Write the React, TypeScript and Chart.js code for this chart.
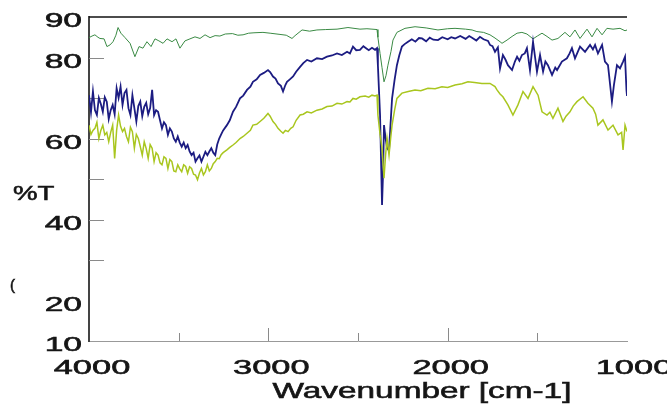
import { useEffect, useRef } from "react";
import { Chart, registerables } from "chart.js";

Chart.register(...registerables);

// ---- data (wavenumber [cm-1], %T) ----
const greenWn = [4000,3983,3967,3950,3939,3916,3900,3883,3866,3850,3838,3822,3799,3771,3744,3721,3699,3677,3654,3632,3610,3587,3565,3537,3515,3493,3465,3437,3409,3381,3353,3325,3297,3270,3240,3200,3170,3141,3110,3080,3030,2990,2935,2900,2868,2851,2812,2770,2729,2680,2617,2556,2489,2450,2422,2394,2389,2377,2366,2355,2344,2333,2316,2305,2283,2238,2182,2120,2054,2000,1959,1900,1864,1837,1800,1764,1736,1708,1697,1669,1641,1613,1586,1558,1524,1500,1474,1446,1418,1385,1346,1318,1290,1262,1223,1195,1167,1139,1112,1078,1039,1011,1000];
const greenT = [84.9,85.3,85.6,85.0,84.7,84.6,82.7,83.1,83.9,85.5,87.4,86.0,84.9,83.5,80.2,82.7,82.3,83.9,82.7,84.6,84.1,83.5,84.6,83.9,84.6,82.3,84.1,84.6,85.1,84.7,85.6,84.9,85.4,85.3,85.8,85.9,85.5,85.6,86.0,86.1,86.2,86.0,85.7,85.5,84.7,85.4,86.8,86.5,86.8,86.9,87.0,87.4,87.0,87.1,87.0,86.9,85.0,81.0,77.5,74.0,75.5,78.1,81.5,84.3,86.2,87.2,87.6,87.3,86.8,87.1,87.2,87.0,86.8,86.4,86.2,85.6,84.8,83.9,83.5,84.3,85.2,86.0,86.2,85.8,84.6,85.3,86.0,85.2,84.3,84.7,86.2,85.1,86.8,84.7,87.0,85.1,87.2,85.6,87.2,87.0,87.2,86.6,86.8];

// noisy O-H region, shared sampling for the two lower spectra
const ohWn = [4000,3989,3978,3967,3956,3945,3934,3923,3912,3901,3890,3879,3868,3857,3846,3835,3824,3813,3802,3791,3780,3769,3758,3747,3736,3725,3714,3703,3692,3681,3670,3659,3648,3637,3626,3615,3604,3593,3582,3571,3560,3549,3538,3527,3516,3505,3494,3483,3472,3461,3450,3439,3428,3417,3406,3395,3384,3373,3362,3351,3340,3329,3318,3307,3296,3285,3274,3263,3252];
const blueOhT = [70.7,66.5,71.6,67.0,65.8,70.0,68.5,66.6,70.2,69.1,64.8,67.0,68.3,66.0,72.4,70.0,72.8,68.3,71.2,72.0,67.5,65.8,70.7,67.5,64.2,68.0,69.1,65.5,67.8,68.8,66.0,67.5,72.0,65.8,67.0,66.6,64.5,62.5,64.0,63.3,60.9,62.5,61.7,60.0,59.2,60.5,59.0,58.0,59.0,57.6,58.4,56.8,55.9,56.5,54.3,55.1,55.8,54.3,55.5,56.7,55.9,56.8,57.6,56.5,55.9,58.5,60.0,61.0,62.0];
const yellowOhT = [63.3,61.0,62.0,62.5,64.0,60.0,62.0,63.3,60.9,61.5,59.2,61.5,63.3,55.1,62.0,65.8,63.0,61.7,62.5,60.5,59.2,62.8,61.7,57.6,61.0,60.0,58.0,55.9,59.2,57.5,55.1,58.5,57.6,54.3,56.5,55.9,54.0,53.5,55.5,55.1,52.6,54.8,54.3,52.0,51.8,53.5,52.5,51.8,53.5,53.1,51.4,53.0,52.6,51.2,51.0,49.8,51.5,52.6,51.0,51.8,53.5,52.0,52.6,53.8,54.3,55.1,55.0,56.0,56.5];

const blueRestWn = [3231,3215,3197,3180,3158,3140,3119,3100,3086,3065,3046,3025,3002,2990,2974,2960,2946,2930,2918,2905,2896,2880,2862,2845,2823,2805,2784,2760,2729,2700,2673,2645,2617,2590,2561,2545,2528,2510,2489,2470,2455,2440,2422,2405,2394,2389,2377,2366,2360,2355,2346,2338,2327,2318,2310,2296,2283,2270,2255,2240,2221,2200,2180,2160,2143,2120,2100,2080,2054,2030,2000,1980,1959,1930,1900,1880,1864,1840,1820,1800,1775,1764,1750,1736,1720,1708,1692,1678,1664,1641,1625,1613,1600,1586,1570,1558,1541,1524,1502,1485,1468,1455,1441,1418,1400,1390,1363,1335,1320,1307,1290,1262,1234,1206,1190,1178,1162,1139,1123,1106,1084,1073,1056,1039,1022,1011,1003,1000];
const blueRestT = [63.3,64.5,66.6,67.8,69.9,70.6,72.0,72.8,74.0,74.6,75.7,76.2,76.9,76.4,75.3,74.8,73.6,73.0,71.6,73.2,74.0,74.6,75.3,76.5,77.7,78.6,79.4,79.0,79.8,79.6,80.2,80.5,81.0,80.6,81.4,81.0,82.7,81.8,81.9,82.8,82.3,81.8,82.4,81.9,82.3,78.0,65.8,43.6,52.0,63.3,60.0,57.6,57.0,64.0,69.9,74.5,78.1,80.5,82.7,83.3,83.9,84.5,83.9,84.8,84.7,84.0,84.9,84.4,84.3,85.0,84.5,85.0,84.7,85.3,84.6,85.3,84.9,84.2,85.1,84.5,84.1,83.1,82.8,81.4,82.5,77.3,80.6,79.5,78.1,76.9,79.0,80.2,79.2,80.6,81.0,82.3,76.9,83.9,76.5,80.6,76.5,79.0,78.1,75.7,77.5,76.9,79.0,79.8,81.0,82.3,79.8,82.7,81.4,83.1,82.0,83.1,81.0,83.1,79.0,78.1,69.1,73.2,78.1,77.3,79.0,80.2,72.0,70.5];

const yellowRestWn = [3231,3215,3197,3180,3158,3140,3119,3100,3086,3065,3046,3025,3002,2990,2974,2960,2946,2930,2918,2905,2890,2875,2862,2845,2823,2805,2784,2760,2729,2700,2673,2645,2617,2590,2561,2545,2528,2510,2489,2460,2440,2422,2405,2394,2389,2377,2366,2355,2346,2338,2327,2318,2310,2296,2283,2255,2220,2182,2150,2110,2070,2032,2000,1959,1920,1887,1850,1809,1764,1736,1725,1708,1692,1664,1636,1608,1580,1552,1524,1496,1474,1446,1430,1413,1385,1357,1340,1318,1300,1279,1245,1218,1190,1175,1162,1134,1106,1078,1050,1030,1022,1011,1000];
const yellowRestT = [57.2,57.8,58.4,59.0,60.0,60.5,61.3,62.0,63.3,63.5,64.2,65.0,66.2,65.5,64.2,63.5,62.5,61.8,61.3,62.0,61.7,62.5,62.9,64.5,65.8,66.0,66.6,66.3,67.0,67.3,67.9,68.0,68.7,68.5,69.1,69.0,69.9,69.7,70.3,70.5,70.2,70.7,70.5,70.7,65.8,61.0,57.6,50.2,56.0,60.0,55.9,60.0,63.3,67.0,69.9,71.2,71.6,72.0,71.8,72.4,72.3,72.8,72.6,73.2,73.5,74.0,73.8,73.6,73.6,72.8,72.0,71.0,70.3,68.3,65.8,68.3,71.6,69.9,72.8,70.7,66.6,65.8,66.5,65.0,67.5,64.2,65.5,66.6,68.0,69.1,70.3,68.7,67.5,66.0,63.3,64.6,62.1,63.3,60.9,61.5,57.2,63.3,61.7];

// ---- axes text & ticks ----
const xLabelTicks = [4000, 3000, 2000, 1000];
const xMarkTicks = [3500, 3000, 2500, 2000, 1500];
const yLabelTicks = [90, 80, 60, 40, 20, 10];
const yMarkTicks = [80, 70, 60, 50, 40, 30];
const xTitle = "Wavenumber [cm-1]";
const yTitle = "%T";
const stray = "(";

const FONT = '"Liberation Sans", Arial, sans-serif';

function stretchText(ctx: CanvasRenderingContext2D, text: string, x: number, y: number, size: number, sx: number, align: CanvasTextAlign) {
  ctx.save();
  ctx.font = `${size}px ${FONT}`;
  ctx.fillStyle = "#151515";
  ctx.strokeStyle = "#151515";
  ctx.lineWidth = 0.55;
  ctx.textAlign = align;
  ctx.textBaseline = "alphabetic";
  ctx.translate(x, y);
  ctx.scale(sx, 1);
  ctx.fillText(text, 0, 0);
  ctx.strokeText(text, 0, 0);
  ctx.restore();
}

const decorPlugin = {
  id: "decor",
  beforeDatasetsDraw(chart: any) {
    const { ctx, chartArea: a, scales } = chart;
    const xs = scales.x;
    const ys = scales.y;
    ctx.save();
    ctx.strokeStyle = "#111";
    ctx.lineWidth = 1.5;
    ctx.beginPath();
    ctx.moveTo(a.left, a.top);
    ctx.lineTo(a.right, a.top);
    ctx.stroke();
    ctx.strokeStyle = "#8a8a8a";
    ctx.lineWidth = 1;
    ctx.beginPath();
    yMarkTicks.forEach((v) => {
      const py = Math.round(ys.getPixelForValue(v)) + 0.5;
      ctx.moveTo(a.left, py);
      ctx.lineTo(a.left + 15, py);
    });
    xMarkTicks.forEach((v) => {
      const px = Math.round(xs.getPixelForValue(v)) + 0.5;
      const len = v % 1000 === 0 ? 13 : 8;
      ctx.moveTo(px, a.bottom);
      ctx.lineTo(px, a.bottom - len);
    });
    ctx.stroke();
    ctx.restore();
  },
  afterDraw(chart: any) {
    const { ctx, chartArea: a, scales } = chart;
    const xs = scales.x;
    const ys = scales.y;
    yLabelTicks.forEach((v) => {
      stretchText(ctx, String(v), a.left - 7, ys.getPixelForValue(v) + 10, 19.5, 1.72, "right");
    });
    xLabelTicks.forEach((v) => {
      ctx.save();
      ctx.beginPath();
      ctx.rect(0, 0, 667, chart.height);
      ctx.clip();
      const off = v === 1000 ? 7 : 3;
      stretchText(ctx, String(v), xs.getPixelForValue(v) + off, a.bottom + 33, 20, 1.72, "center");
      ctx.restore();
    });
    stretchText(ctx, xTitle, 422, a.bottom + 57, 21.5, 1.55, "center");
    stretchText(ctx, yTitle, 13, 200, 20, 1.38, "left");
    stretchText(ctx, stray, 10, 290, 15, 1, "left");
  },
};

export default function App() {
  const ref = useRef<HTMLCanvasElement | null>(null);
  useEffect(() => {
    document.body.style.margin = "0";
    const canvas = ref.current;
    if (!canvas) return;
    const mk = (wn: number[], t: number[]) => wn.map((w, i) => ({ x: w, y: t[i] }));
    const blue = [...mk(ohWn, blueOhT), ...mk(blueRestWn, blueRestT)];
    const yellow = [...mk(ohWn, yellowOhT), ...mk(yellowRestWn, yellowRestT)];
    const chart = new Chart(canvas, {
      type: "line",
      data: {
        datasets: [
          { data: yellow, borderColor: "#a9c61f", borderWidth: 1.5, pointRadius: 0, tension: 0 },
          { data: blue, borderColor: "#1c1c82", borderWidth: 1.8, pointRadius: 0, tension: 0 },
          { data: mk(greenWn, greenT), borderColor: "#3a8a44", borderWidth: 1, pointRadius: 0, tension: 0 },
        ],
      },
      options: {
        animation: false,
        responsive: false,
        layout: { padding: { left: 89, top: 17, right: 45, bottom: 68 } },
        plugins: { legend: { display: false }, tooltip: { enabled: false } },
        scales: {
          x: {
            type: "linear",
            min: 1000,
            max: 4000,
            reverse: true,
            grid: { display: false, drawTicks: false },
            ticks: { display: false },
            border: { display: true, color: "#999", width: 1 },
            afterBuildTicks: (s: any) => { s.ticks = xLabelTicks.map((v) => ({ value: v })); },
            afterFit: (s: any) => { s.height = 0; },
          },
          y: {
            min: 10,
            max: 90,
            grid: { display: false, drawTicks: false },
            ticks: { display: false },
            border: { display: true, color: "#444", width: 2 },
            afterBuildTicks: (s: any) => { s.ticks = yLabelTicks.map((v) => ({ value: v })); },
            afterFit: (s: any) => { s.width = 0; },
          },
        },
      },
      plugins: [decorPlugin],
    });
    return () => chart.destroy();
  }, []);
  return <canvas ref={ref} width={672} height={409} style={{ display: "block" }} />;
}
